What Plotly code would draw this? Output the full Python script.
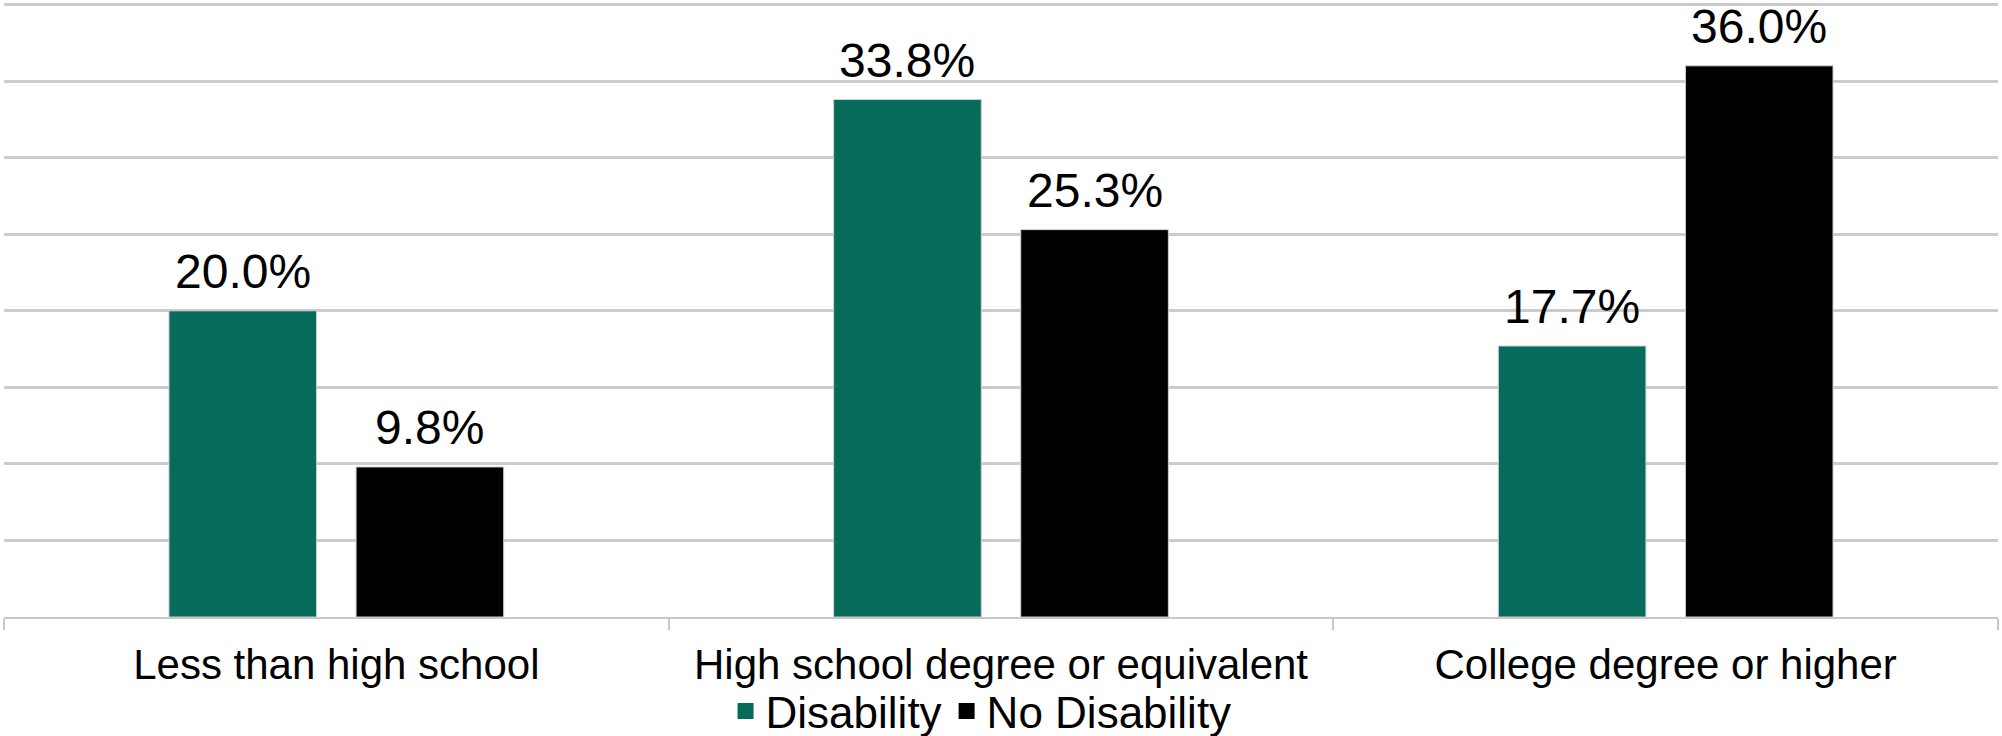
import plotly.graph_objects as go

categories = ["Less than high school", "High school degree or equivalent", "College degree or higher"]
disability = [20.0, 33.8, 17.7]
no_disability = [9.8, 25.3, 36.0]
series_names = ["Disability", "No Disability"]
colors = ["#076B5C", "#000000"]

BARGAP = 0.437
BARGROUPGAP = 0.211
FONT = "Liberation Sans, Arial, Helvetica, sans-serif"

fig = go.Figure()
for name, vals, col in zip(series_names, [disability, no_disability], colors):
    fig.add_trace(go.Bar(
        x=categories, y=vals, name=name, showlegend=False,
        marker=dict(color=col, line=dict(color="#cfcfcf", width=1)),
    ))
# legend entries with larger square swatches
for name, col in zip(series_names, colors):
    fig.add_trace(go.Scatter(
        x=[None], y=[None], name=name, mode="markers",
        marker=dict(symbol="square", color=col, size=20),
    ))

# data labels above bars
offset = (1 - BARGAP) / 4
annotations = []
for k, vals in enumerate([disability, no_disability]):
    sign = -1 if k == 0 else 1
    for i, v in enumerate(vals):
        annotations.append(dict(
            x=i + sign * offset, y=v, xref="x", yref="y",
            text=f"{v:.1f}%", showarrow=False, yanchor="bottom",
            yshift=11, font=dict(family=FONT, size=48, color="#000000"),
        ))

fig.update_layout(
    width=2002, height=736,
    margin=dict(l=4, r=4, t=0, b=119, autoexpand=False),
    paper_bgcolor="white", plot_bgcolor="white",
    barmode="group", bargap=BARGAP, bargroupgap=BARGROUPGAP,
    font=dict(family=FONT, color="#000000"),
    annotations=annotations,
    showlegend=True,
    legend=dict(orientation="h", x=0.49, xanchor="center", y=-0.153, yanchor="middle",
                bgcolor="rgba(0,0,0,0)",
                font=dict(family=FONT, size=44), itemwidth=30, traceorder="normal"),
    xaxis=dict(
        showline=True, linecolor="#c8c8c8", linewidth=2,
        ticks="outside", tickson="boundaries", ticklen=11, tickcolor="#c8c8c8", tickwidth=2,
        tickfont=dict(family=FONT, size=42, color="#000000"),
        ticklabelstandoff=10, automargin=False,
        showgrid=False,
    ),
    yaxis=dict(
        range=[0, 40.3], tick0=0, dtick=5, showticklabels=False, ticks="",
        showgrid=True, gridcolor="#cccccc", gridwidth=3,
        zeroline=False, showline=False, automargin=False,
    ),
)

fig.write_html("out.html")
